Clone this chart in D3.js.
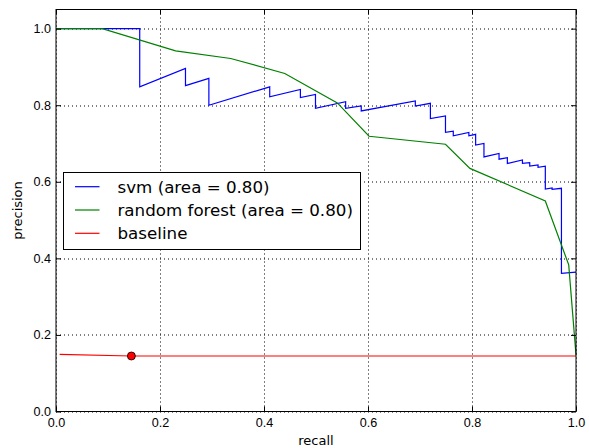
<!DOCTYPE html>
<html>
<head>
<meta charset="utf-8">
<script src="https://cdn.jsdelivr.net/npm/d3@7"></script>
<style>
  body { margin: 0; background: #fff; }
  svg { display: block; font-family: "DejaVu Sans", sans-serif; }
</style>
</head>
<body>
<div id="chart"></div>
<script>
// precision / recall curves
const svmRecall = [0, 0.161, 0.161, 0.249, 0.249, 0.294, 0.294, 0.411, 0.411, 0.470, 0.470, 0.499, 0.499,
  0.557, 0.557, 0.587, 0.587, 0.691, 0.691, 0.720, 0.720, 0.749, 0.749, 0.764, 0.764, 0.794, 0.794,
  0.807, 0.807, 0.823, 0.823, 0.852, 0.852, 0.868, 0.868, 0.897, 0.897, 0.911, 0.911, 0.927, 0.927,
  0.941, 0.941, 0.954, 0.954, 0.972, 0.972, 1.0];
const svmPrecision = [1.0, 1.0, 0.848, 0.896, 0.851, 0.870, 0.800, 0.848, 0.822, 0.841, 0.820, 0.828, 0.792,
  0.809, 0.792, 0.798, 0.785, 0.811, 0.798, 0.805, 0.765, 0.772, 0.729, 0.732, 0.720, 0.729, 0.720,
  0.724, 0.696, 0.700, 0.665, 0.674, 0.659, 0.663, 0.648, 0.657, 0.648, 0.650, 0.641, 0.644, 0.638,
  0.641, 0.581, 0.584, 0.580, 0.583, 0.361, 0.364];

const rfRecall = [0, 0.089, 0.230, 0.336, 0.440, 0.541, 0.602, 0.749, 0.796, 0.941, 0.986, 1.0];
const rfPrecision = [1.0, 1.0, 0.942, 0.922, 0.883, 0.806, 0.719, 0.698, 0.635, 0.550, 0.383, 0.148];

const baseRecall = [0.007, 0.145, 1.0];
const basePrecision = [0.149, 0.145, 0.145];
const basePoint = [0.145, 0.145];

const xTicks = [0, 0.2, 0.4, 0.6, 0.8, 1.0];
const yTicks = [0, 0.2, 0.4, 0.6, 0.8, 1.0];

const seriesNames = ["svm (area = 0.80)", "random forest (area = 0.80)", "baseline"];
const seriesColors = ["#0000ff", "#008000", "#ff0000"];

function zipXY(xs, ys) {
  return xs.map(function(v, i) { return [v, ys[i]]; });
}

const margin = {top: 9.5, right: 13, bottom: 36.5, left: 56},
  width = 589 - margin.left - margin.right,
  height = 448 - margin.top - margin.bottom;

const svg = d3.select("#chart")
  .append("svg")
    .attr("width", 589)
    .attr("height", 448)
  .append("g")
    .attr("transform", "translate(" + margin.left + "," + margin.top + ")");

const x = d3.scaleLinear().domain([0, 1]).range([0, width]);
const y = d3.scaleLinear().domain([0, 1.05]).range([height, 0]);

// dotted grid
const grid = svg.append("g")
  .attr("stroke", "#000")
  .attr("stroke-width", 1)
  .attr("stroke-dasharray", "1,3");
grid.selectAll(".gx").data(xTicks).enter().append("line")
  .attr("x1", function(d) { return Math.round(x(d)) + 0.5; })
  .attr("x2", function(d) { return Math.round(x(d)) + 0.5; })
  .attr("y1", 0).attr("y2", height);
grid.selectAll(".gy").data(yTicks).enter().append("line")
  .attr("y1", function(d) { return Math.round(y(d)) + 0.5; })
  .attr("y2", function(d) { return Math.round(y(d)) + 0.5; })
  .attr("x1", 0).attr("x2", width);

// curves
const line = d3.line()
  .x(function(d) { return x(d[0]); })
  .y(function(d) { return y(d[1]); });

const curves = [zipXY(svmRecall, svmPrecision), zipXY(rfRecall, rfPrecision), zipXY(baseRecall, basePrecision)];
svg.selectAll(".curve")
  .data(curves)
  .enter()
  .append("path")
    .attr("fill", "none")
    .attr("stroke", function(d, i) { return seriesColors[i]; })
    .attr("stroke-width", 1.2)
    .attr("d", line);

svg.append("circle")
  .attr("cx", x(basePoint[0]))
  .attr("cy", y(basePoint[1]))
  .attr("r", 4)
  .attr("fill", "#ff0000")
  .attr("stroke", "#000")
  .attr("stroke-width", 0.8);

// axes, ticks pointing inward
function styleAxis(g) {
  g.select(".domain").remove();
  g.selectAll(".tick line").attr("stroke", "#000");
  g.selectAll(".tick text").attr("fill", "#000").style("font-size", "12.6px");
}
svg.append("g")
  .attr("transform", "translate(0," + height + ")")
  .call(d3.axisBottom(x).tickValues(xTicks).tickFormat(d3.format(".1f")).tickSize(-5).tickPadding(7))
  .call(styleAxis);
svg.append("g")
  .call(d3.axisLeft(y).tickValues(yTicks).tickFormat(d3.format(".1f")).tickSize(-5).tickPadding(5))
  .call(styleAxis);
svg.append("g")
  .call(d3.axisTop(x).tickValues(xTicks).tickFormat("").tickSize(-5))
  .call(styleAxis);
svg.append("g")
  .attr("transform", "translate(" + width + ",0)")
  .call(d3.axisRight(y).tickValues(yTicks).tickFormat("").tickSize(-5))
  .call(styleAxis);

svg.append("rect")
  .attr("x", 0).attr("y", 0)
  .attr("width", width).attr("height", height)
  .attr("fill", "none")
  .attr("stroke", "#000")
  .attr("stroke-width", 1);

// axis labels
svg.append("text")
  .attr("x", width / 2)
  .attr("y", height + 33)
  .attr("text-anchor", "middle")
  .style("font-size", "13px")
  .text("recall");
svg.append("text")
  .attr("transform", "translate(-34," + (height / 2) + ")rotate(-90)")
  .attr("text-anchor", "middle")
  .style("font-size", "13px")
  .text("precision");

// legend
const legend = svg.append("g")
  .attr("transform", "translate(" + (63.5 - margin.left) + "," + (172.5 - margin.top) + ")");
legend.append("rect")
  .attr("width", 297).attr("height", 77)
  .attr("fill", "#fff")
  .attr("stroke", "#000")
  .attr("stroke-width", 1);
const rows = legend.selectAll(".row")
  .data(seriesNames)
  .enter()
  .append("g")
    .attr("transform", function(d, i) { return "translate(0," + (14.2 + i * 23.3) + ")"; });
rows.append("line")
  .attr("x1", 11.5).attr("x2", 36)
  .attr("stroke", function(d, i) { return seriesColors[i]; })
  .attr("stroke-width", 1.2);
rows.append("text")
  .attr("x", 54)
  .attr("dy", "0.36em")
  .style("font-size", "16.7px")
  .text(function(d) { return d; });
</script>
</body>
</html>
